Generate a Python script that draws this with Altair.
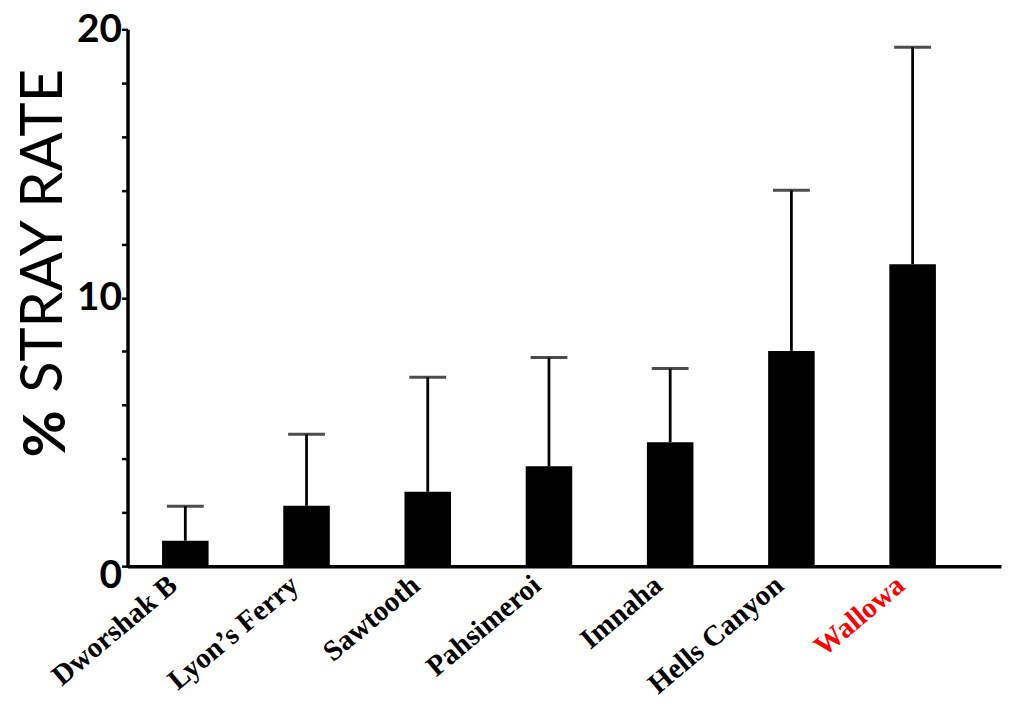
import altair as alt
import pandas as pd

sites = ["Dworshak B", "Lyon’s Ferry", "Sawtooth", "Pahsimeroi", "Imnaha", "Hells Canyon", "Wallowa"]
stray_rate = [0.95, 2.25, 2.77, 3.72, 4.62, 8.02, 11.25]
upper_err = [2.23, 4.91, 7.04, 7.77, 7.36, 14.0, 19.33]
highlight_site = "Wallowa"
y_ticks = [0, 2, 4, 6, 8, 10, 12, 14, 16, 18, 20]
title_pct = ["%"]
title_rest = ["STRAY RATE"]

df = pd.DataFrame({"site": sites, "rate": stray_rate, "upper": upper_err})

x_enc = alt.X(
    "site:N",
    sort=sites,
    scale=alt.Scale(paddingInner=0.616, paddingOuter=0.411, align=0.3465),
    axis=alt.Axis(
        title=None,
        ticks=False,
        domainColor="black",
        domainWidth=3.5,
        labelAngle=-40,
        labelAlign="right",
        labelBaseline="top",
        labelFont="Liberation Serif",
        labelFontWeight="bold",
        labelFontSize=29,
        labelPadding=4,
        labelOffset=-21,
        labelLimit=400,
        labelColor={"condition": {"test": f"datum.value === '{highlight_site}'", "value": "#ff0000"}, "value": "black"},
    ),
)

y_enc = alt.Y(
    "rate:Q",
    scale=alt.Scale(domain=[0, 20], nice=False),
    axis=alt.Axis(
        title=None,
        values=y_ticks,
        labelExpr="datum.value % 10 === 0 ? datum.label : ''",
        grid=False,
        domainColor="black",
        domainWidth=3.5,
        tickColor="black",
        tickWidth=2.5,
        tickSize=6,
        labelFont="Lato",
        labelFontWeight="bold",
        labelFontSize=39,
        labelColor="black",
        labelPadding=0,
        labelBaseline="middle",
        labelOffset={"condition": {"test": "datum.value === 0", "value": 9}, "value": 0},
    ),
)

bars = alt.Chart(df).mark_bar(color="black").encode(x=x_enc, y=y_enc)
err = alt.Chart(df).mark_rule(color="black", strokeWidth=2.8).encode(
    x=alt.X("site:N", sort=sites), y="rate:Q", y2="upper:Q"
)
cap = alt.Chart(df).mark_tick(color="black", thickness=3, size=37, orient="horizontal").encode(
    x=alt.X("site:N", sort=sites), y="upper:Q"
)

pct = alt.Chart(pd.DataFrame({"t": title_pct})).mark_text(
    font="Lato", fontWeight="bold", fontSize=58, angle=270, align="left",
    baseline="alphabetic", color="black"
).encode(x=alt.value(-63), y=alt.value(430), text="t:N")

rest = alt.Chart(pd.DataFrame({"t": title_rest})).mark_text(
    font="Lato", fontWeight="normal", fontSize=58, angle=270, align="left",
    baseline="alphabetic", color="black"
).encode(x=alt.value(-66), y=alt.value(365), text="t:N")

chart = alt.layer(bars, err, cap, pct, rest).properties(
    width=877,
    height=539,
    padding={"left": 120, "top": 20, "right": 2, "bottom": 135},
    autosize=alt.AutoSizeParams(type="none"),
).configure_view(stroke=None)

chart.save("out.html", embed_options={"renderer": "svg", "actions": False})
